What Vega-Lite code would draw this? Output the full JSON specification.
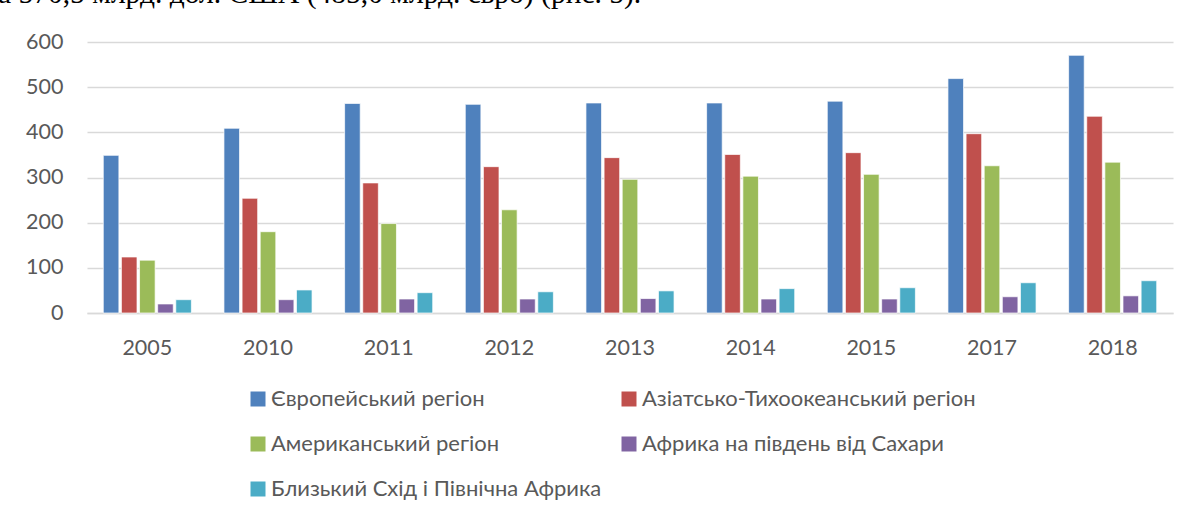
{
  "$schema": "https://vega.github.io/schema/vega-lite/v6.json",
  "autosize": "none",
  "width": 1086,
  "height": 271,
  "padding": {"left": 87, "top": 42, "right": 15, "bottom": 202},
  "background": "white",
  "title": {
    "text": "а 570,5 млрд. дол. США (485,0 млрд. євро) (рис. 5).",
    "anchor": "start",
    "frame": "group",
    "font": "Liberation Serif",
    "fontSize": 29.5,
    "fontWeight": "normal",
    "color": "#000000",
    "baseline": "alphabetic",
    "dx": -89,
    "dy": 1,
    "offset": 0
  },
  "data": {
    "values": [
      {"year": "2005", "region": "Європейський регіон", "value": 349},
      {"year": "2005", "region": "Азіатсько-Тихоокеанський регіон", "value": 124},
      {"year": "2005", "region": "Американський регіон", "value": 117},
      {"year": "2005", "region": "Африка на південь від Сахари", "value": 20},
      {"year": "2005", "region": "Близький Схід і Північна Африка", "value": 29.5},
      {"year": "2010", "region": "Європейський регіон", "value": 409},
      {"year": "2010", "region": "Азіатсько-Тихоокеанський регіон", "value": 254},
      {"year": "2010", "region": "Американський регіон", "value": 180},
      {"year": "2010", "region": "Африка на південь від Сахари", "value": 29.5},
      {"year": "2010", "region": "Близький Схід і Північна Африка", "value": 51},
      {"year": "2011", "region": "Європейський регіон", "value": 464},
      {"year": "2011", "region": "Азіатсько-Тихоокеанський регіон", "value": 288},
      {"year": "2011", "region": "Американський регіон", "value": 198},
      {"year": "2011", "region": "Африка на південь від Сахари", "value": 31},
      {"year": "2011", "region": "Близький Схід і Північна Африка", "value": 45},
      {"year": "2012", "region": "Європейський регіон", "value": 462},
      {"year": "2012", "region": "Азіатсько-Тихоокеанський регіон", "value": 324},
      {"year": "2012", "region": "Американський регіон", "value": 228.5},
      {"year": "2012", "region": "Африка на південь від Сахари", "value": 31},
      {"year": "2012", "region": "Близький Схід і Північна Африка", "value": 47},
      {"year": "2013", "region": "Європейський регіон", "value": 465},
      {"year": "2013", "region": "Азіатсько-Тихоокеанський регіон", "value": 344},
      {"year": "2013", "region": "Американський регіон", "value": 296},
      {"year": "2013", "region": "Африка на південь від Сахари", "value": 32},
      {"year": "2013", "region": "Близький Схід і Північна Африка", "value": 49},
      {"year": "2014", "region": "Європейський регіон", "value": 465},
      {"year": "2014", "region": "Азіатсько-Тихоокеанський регіон", "value": 351},
      {"year": "2014", "region": "Американський регіон", "value": 303},
      {"year": "2014", "region": "Африка на південь від Сахари", "value": 31},
      {"year": "2014", "region": "Близький Схід і Північна Африка", "value": 54},
      {"year": "2015", "region": "Європейський регіон", "value": 469},
      {"year": "2015", "region": "Азіатсько-Тихоокеанський регіон", "value": 355},
      {"year": "2015", "region": "Американський регіон", "value": 307},
      {"year": "2015", "region": "Африка на південь від Сахари", "value": 31},
      {"year": "2015", "region": "Близький Схід і Північна Африка", "value": 56},
      {"year": "2017", "region": "Європейський регіон", "value": 519},
      {"year": "2017", "region": "Азіатсько-Тихоокеанський регіон", "value": 397},
      {"year": "2017", "region": "Американський регіон", "value": 326},
      {"year": "2017", "region": "Африка на південь від Сахари", "value": 36},
      {"year": "2017", "region": "Близький Схід і Північна Африка", "value": 67},
      {"year": "2018", "region": "Європейський регіон", "value": 570.5},
      {"year": "2018", "region": "Азіатсько-Тихоокеанський регіон", "value": 435.6},
      {"year": "2018", "region": "Американський регіон", "value": 334},
      {"year": "2018", "region": "Африка на південь від Сахари", "value": 38},
      {"year": "2018", "region": "Близький Схід і Північна Африка", "value": 71.5}
    ]
  },
  "mark": {"type": "bar", "stroke": "white", "strokeWidth": 1, "strokeOpacity": 0.7},
  "encoding": {
    "x": {
      "field": "year",
      "type": "nominal",
      "sort": null,
      "scale": {"paddingInner": 0.27, "paddingOuter": 0.135},
      "axis": {
        "title": null,
        "labelAngle": 0,
        "ticks": false,
        "domainColor": "#D9D9D9",
        "domainWidth": 1.5,
        "labelPadding": 24,
        "labelFont": "Lato",
        "labelFontSize": 21.5,
        "labelColor": "#595959"
      }
    },
    "xOffset": {
      "field": "region",
      "type": "nominal",
      "sort": null,
      "scale": {"paddingInner": 0.14, "paddingOuter": 0}
    },
    "y": {
      "field": "value",
      "type": "quantitative",
      "scale": {"domain": [0, 600], "nice": false},
      "axis": {
        "title": null,
        "values": [0, 100, 200, 300, 400, 500, 600],
        "ticks": false,
        "domain": false,
        "gridColor": "#D9D9D9",
        "gridWidth": 1.5,
        "labelPadding": 24,
        "labelFont": "Lato",
        "labelFontSize": 21.5,
        "labelColor": "#595959"
      }
    },
    "color": {
      "field": "region",
      "type": "nominal",
      "sort": null,
      "scale": {"range": ["#4F81BD", "#C0504D", "#9BBB59", "#8064A2", "#4BACC6"]},
      "legend": {
        "title": null,
        "orient": "none",
        "legendX": 160,
        "legendY": 346,
        "direction": "horizontal",
        "columns": 2,
        "symbolType": "square",
        "symbolSize": 225,
        "symbolStrokeWidth": 0,
        "labelFont": "Lato",
        "labelFontSize": 22,
        "labelColor": "#595959",
        "labelLimit": 500,
        "labelOffset": 2,
        "columnPadding": 16,
        "rowPadding": 23,
        "padding": 0
      }
    }
  },
  "config": {
    "view": {"stroke": null}
  }
}
